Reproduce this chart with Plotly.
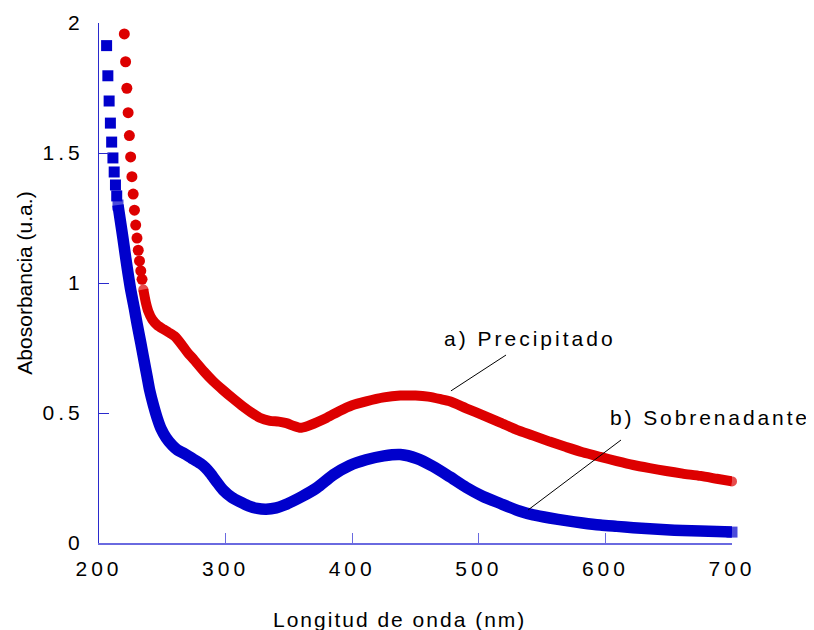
import plotly.graph_objects as go

# ---- data ----
# Sobrenadante (blue squares): isolated points at the top, then dense band
blue_sparse_nm = [206, 207, 208, 209, 210, 211, 212, 213, 214]
blue_sparse_abs = [1.913, 1.797, 1.700, 1.615, 1.542, 1.481, 1.427, 1.377, 1.335]

blue_nm = [215, 217, 219, 221, 223, 225, 228, 230, 233, 235, 238, 240, 243, 246,
           249, 253, 258, 262, 267, 273, 280, 284, 288, 293, 298, 305, 311, 318,
           325, 332, 340, 346, 360, 372, 385, 398, 411, 425, 438, 451, 464, 477,
           490, 503, 517, 532, 543, 556, 569, 582, 596, 609, 622, 635, 648, 661,
           675, 688, 700]
blue_abs = [1.300, 1.235, 1.170, 1.100, 1.035, 0.975, 0.900, 0.845, 0.770, 0.717,
            0.640, 0.588, 0.530, 0.480, 0.440, 0.405, 0.375, 0.358, 0.345, 0.327,
            0.306, 0.290, 0.268, 0.235, 0.204, 0.175, 0.159, 0.143, 0.133, 0.130,
            0.135, 0.145, 0.178, 0.212, 0.262, 0.298, 0.320, 0.335, 0.340, 0.325,
            0.294, 0.255, 0.214, 0.180, 0.152, 0.123, 0.108, 0.096, 0.086, 0.077,
            0.069, 0.064, 0.059, 0.055, 0.051, 0.048, 0.046, 0.044, 0.042]

# Precipitado (red circles)
red_sparse_nm = [220, 221, 222, 223, 224, 225, 226, 227, 228, 229, 230, 231, 232,
                 233, 234]
red_sparse_abs = [1.958, 1.851, 1.749, 1.655, 1.567, 1.485, 1.409, 1.342, 1.280,
                  1.223, 1.173, 1.126, 1.085, 1.047, 1.014]

red_nm = [235, 237, 239, 242, 246, 251, 255, 260, 265, 270, 275, 283, 290, 298,
          306, 314, 320, 327, 335, 342, 348, 354, 359, 365, 372, 380, 390, 400,
          411, 425, 438, 450, 460, 470, 477, 490, 504, 517, 530, 543, 556, 569,
          582, 596, 609, 622, 635, 648, 661, 675, 688, 700]
red_abs = [0.975, 0.925, 0.890, 0.860, 0.838, 0.822, 0.810, 0.794, 0.765, 0.732,
           0.705, 0.659, 0.623, 0.588, 0.555, 0.524, 0.503, 0.482, 0.470, 0.467,
           0.461, 0.450, 0.443, 0.450, 0.464, 0.482, 0.508, 0.530, 0.545, 0.560,
           0.567, 0.567, 0.563, 0.553, 0.545, 0.518, 0.490, 0.463, 0.435, 0.413,
           0.390, 0.369, 0.349, 0.331, 0.315, 0.300, 0.288, 0.277, 0.267, 0.258,
           0.247, 0.237]

x_tick_vals = [200, 300, 400, 500, 600, 700]
x_tick_labels = ["200", "300", "400", "500", "600", "700"]
y_tick_vals = [0, 0.5, 1, 1.5, 2]
y_tick_labels = ["0", "0.5", "1", "1.5", "2"]

label_a = "a) Precipitado"
label_b = "b) Sobrenadante"
x_title = "Longitud de onda (nm)"
y_title = "Abosorbancia (u.a.)"

# callout leader lines (data units)
leader_a = [(478.0, 0.585), (521.5, 0.723)]
leader_b = [(538.9, 0.127), (612.3, 0.396)]
label_a_pos = (540.4, 0.788)
label_b_pos = (602.0, 0.481)

BLUE = "#0000cc"
RED = "#dd0000"
FONT = "Arial, Liberation Sans, sans-serif"


def spaced(t, px=3):
    return f"<span style='letter-spacing:{px}px'>{t}</span>"


def end_sizes(n, s):
    # marker only at both ends of the dense band (caps), none in between
    return [s] + [0] * (n - 2) + [s]


fig = go.Figure()

# blue series
fig.add_trace(go.Scatter(
    x=blue_nm, y=blue_abs, mode="lines+markers",
    line=dict(color=BLUE, width=11.5, shape="spline", smoothing=0.6),
    marker=dict(symbol="square", color=BLUE,
                size=end_sizes(len(blue_nm), 11), line=dict(width=0)),
    cliponaxis=False, showlegend=False))
fig.add_trace(go.Scatter(
    x=blue_sparse_nm, y=blue_sparse_abs, mode="markers",
    marker=dict(symbol="square", color=BLUE, size=11, line=dict(width=0)),
    cliponaxis=False, showlegend=False))

# red series
fig.add_trace(go.Scatter(
    x=red_nm, y=red_abs, mode="lines+markers",
    line=dict(color=RED, width=10, shape="spline", smoothing=0.6),
    marker=dict(symbol="circle", color=RED,
                size=end_sizes(len(red_nm), 10), line=dict(width=0)),
    cliponaxis=False, showlegend=False))
fig.add_trace(go.Scatter(
    x=red_sparse_nm, y=red_sparse_abs, mode="markers",
    marker=dict(symbol="circle", color=RED, size=11, line=dict(width=0)),
    cliponaxis=False, showlegend=False))

for (x0, y0), (x1, y1) in (leader_a, leader_b):
    fig.add_shape(type="line", xref="x", yref="y", x0=x0, y0=y0, x1=x1, y1=y1,
                  line=dict(color="black", width=1), layer="above")

fig.add_annotation(x=label_a_pos[0], y=label_a_pos[1], xref="x", yref="y",
                   text=spaced(label_a), showarrow=False, xanchor="center",
                   yanchor="middle", font=dict(family=FONT, size=21, color="black"))
fig.add_annotation(x=label_b_pos[0], y=label_b_pos[1], xref="x", yref="y",
                   text=spaced(label_b, 2.9), showarrow=False, xanchor="left",
                   yanchor="middle", font=dict(family=FONT, size=21, color="black"))

# x-axis title (placed slightly left of centre, as in the reference)
fig.add_annotation(x=0.474, y=-0.148, xref="paper", yref="paper",
                   text=spaced(x_title, 2), showarrow=False, xanchor="center",
                   yanchor="middle", font=dict(family=FONT, size=21, color="black"))

fig.update_xaxes(
    range=[200, 700], tickmode="array", tickvals=x_tick_vals,
    ticktext=[spaced(t, 4) for t in x_tick_labels],
    ticks="inside", ticklen=10, tickcolor="#6a6ae0", tickwidth=1,
    showline=True, linecolor="#6a6ae0", linewidth=1.5,
    showgrid=False, zeroline=False, ticklabelstandoff=6,
    tickfont=dict(family=FONT, size=21, color="black"),
    automargin=False)
fig.update_yaxes(
    range=[0, 2], tickmode="array", tickvals=y_tick_vals,
    ticktext=[spaced(t, 4) for t in y_tick_labels],
    ticks="inside", ticklen=10, tickcolor="#2a2acc", tickwidth=1,
    showline=True, linecolor="#2a2acc", linewidth=1,
    showgrid=False, zeroline=False, ticklabelstandoff=10,
    tickfont=dict(family=FONT, size=21, color="black"),
    title=dict(text=y_title, standoff=4,
               font=dict(family=FONT, size=21, color="black")),
    automargin=False)

# page body has an 8 px default margin, so the figure is sized/offset for it
fig.update_layout(
    width=806, height=622,
    margin=dict(l=91, r=82, t=15, b=87, pad=0),
    plot_bgcolor="white", paper_bgcolor="white",
    showlegend=False)

fig.write_html("out.html")
